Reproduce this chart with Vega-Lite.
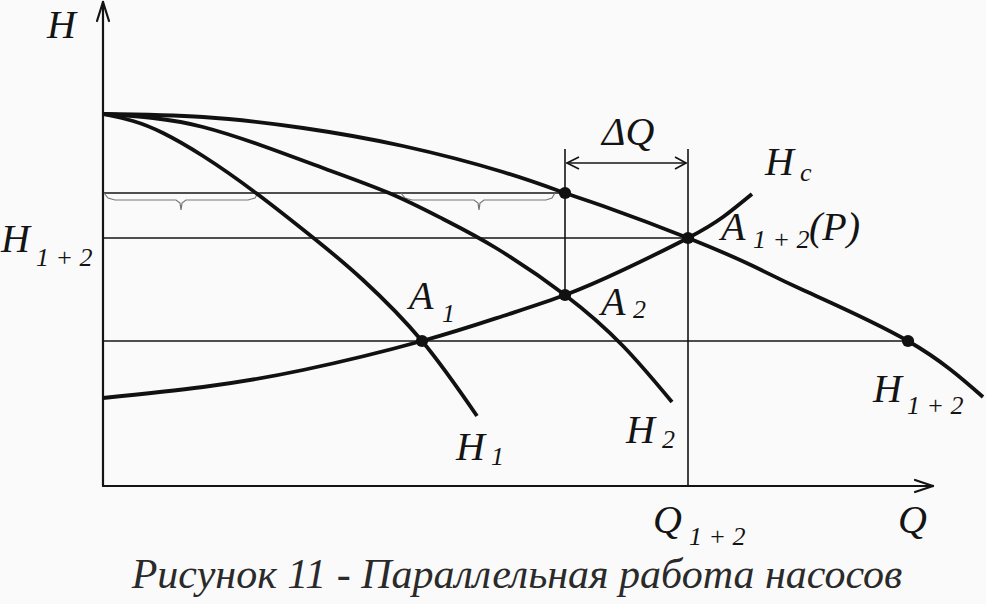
{
  "$schema": "https://vega.github.io/schema/vega-lite/v6.json",
  "width": 986,
  "height": 604,
  "padding": 0,
  "autosize": {"type": "none"},
  "background": "#fafafa",
  "config": {"view": {"stroke": null}},
  "datasets": {
    "curves": [
      {"curve": "H1+2", "kind": "pump", "idx": 0, "q": 0, "h": 37.2},
      {"curve": "H1+2", "kind": "pump", "idx": 1, "q": 10, "h": 36.9},
      {"curve": "H1+2", "kind": "pump", "idx": 2, "q": 20, "h": 35.8},
      {"curve": "H1+2", "kind": "pump", "idx": 3, "q": 30, "h": 34.0},
      {"curve": "H1+2", "kind": "pump", "idx": 4, "q": 40, "h": 31.4},
      {"curve": "H1+2", "kind": "pump", "idx": 5, "q": 46.2, "h": 29.3},
      {"curve": "H1+2", "kind": "pump", "idx": 6, "q": 50, "h": 28.0},
      {"curve": "H1+2", "kind": "pump", "idx": 7, "q": 58.5, "h": 24.8},
      {"curve": "H1+2", "kind": "pump", "idx": 8, "q": 65, "h": 22.0},
      {"curve": "H1+2", "kind": "pump", "idx": 9, "q": 70, "h": 19.6},
      {"curve": "H1+2", "kind": "pump", "idx": 10, "q": 80.5, "h": 14.5},
      {"curve": "H1+2", "kind": "pump", "idx": 11, "q": 88, "h": 8.9},
      {"curve": "H2", "kind": "pump", "idx": 0, "q": 0, "h": 37.2},
      {"curve": "H2", "kind": "pump", "idx": 1, "q": 5, "h": 36.8},
      {"curve": "H2", "kind": "pump", "idx": 2, "q": 10, "h": 35.9},
      {"curve": "H2", "kind": "pump", "idx": 3, "q": 16, "h": 34.0},
      {"curve": "H2", "kind": "pump", "idx": 4, "q": 22, "h": 31.8},
      {"curve": "H2", "kind": "pump", "idx": 5, "q": 28.6, "h": 29.3},
      {"curve": "H2", "kind": "pump", "idx": 6, "q": 34, "h": 26.7},
      {"curve": "H2", "kind": "pump", "idx": 7, "q": 39.3, "h": 23.8},
      {"curve": "H2", "kind": "pump", "idx": 8, "q": 46.2, "h": 19.1},
      {"curve": "H2", "kind": "pump", "idx": 9, "q": 52, "h": 14.0},
      {"curve": "H2", "kind": "pump", "idx": 10, "q": 56.9, "h": 8.4},
      {"curve": "H1", "kind": "pump", "idx": 0, "q": 0, "h": 37.2},
      {"curve": "H1", "kind": "pump", "idx": 1, "q": 3, "h": 36.5},
      {"curve": "H1", "kind": "pump", "idx": 2, "q": 6, "h": 35.3},
      {"curve": "H1", "kind": "pump", "idx": 3, "q": 10, "h": 33.0},
      {"curve": "H1", "kind": "pump", "idx": 4, "q": 15.3, "h": 29.3},
      {"curve": "H1", "kind": "pump", "idx": 5, "q": 21.3, "h": 24.6},
      {"curve": "H1", "kind": "pump", "idx": 6, "q": 26, "h": 20.6},
      {"curve": "H1", "kind": "pump", "idx": 7, "q": 31.9, "h": 14.5},
      {"curve": "H1", "kind": "pump", "idx": 8, "q": 37.4, "h": 7.0},
      {"curve": "Hc", "kind": "pump", "idx": 0, "q": 0, "h": 8.8},
      {"curve": "Hc", "kind": "pump", "idx": 1, "q": 10, "h": 9.9},
      {"curve": "Hc", "kind": "pump", "idx": 2, "q": 20, "h": 11.6},
      {"curve": "Hc", "kind": "pump", "idx": 3, "q": 31.9, "h": 14.5},
      {"curve": "Hc", "kind": "pump", "idx": 4, "q": 40, "h": 17.0},
      {"curve": "Hc", "kind": "pump", "idx": 5, "q": 46.2, "h": 19.1},
      {"curve": "Hc", "kind": "pump", "idx": 6, "q": 52, "h": 21.6},
      {"curve": "Hc", "kind": "pump", "idx": 7, "q": 58.5, "h": 24.8},
      {"curve": "Hc", "kind": "pump", "idx": 8, "q": 62, "h": 26.9},
      {"curve": "Hc", "kind": "pump", "idx": 9, "q": 64.9, "h": 29.2},
      {"curve": "brace1", "kind": "brace", "idx": 0, "q": 0.1, "h": 29.3},
      {"curve": "brace1", "kind": "brace", "idx": 1, "q": 0.5, "h": 28.8},
      {"curve": "brace1", "kind": "brace", "idx": 2, "q": 1.2, "h": 28.6},
      {"curve": "brace1", "kind": "brace", "idx": 3, "q": 7.3, "h": 28.6},
      {"curve": "brace1", "kind": "brace", "idx": 4, "q": 7.7, "h": 28.3},
      {"curve": "brace1", "kind": "brace", "idx": 5, "q": 7.8, "h": 27.6},
      {"curve": "brace1", "kind": "brace", "idx": 6, "q": 7.9, "h": 28.3},
      {"curve": "brace1", "kind": "brace", "idx": 7, "q": 8.3, "h": 28.6},
      {"curve": "brace1", "kind": "brace", "idx": 8, "q": 14.5, "h": 28.6},
      {"curve": "brace1", "kind": "brace", "idx": 9, "q": 15.2, "h": 28.8},
      {"curve": "brace1", "kind": "brace", "idx": 10, "q": 15.5, "h": 29.3},
      {"curve": "brace2", "kind": "brace", "idx": 0, "q": 29.8, "h": 29.3},
      {"curve": "brace2", "kind": "brace", "idx": 1, "q": 30.2, "h": 28.8},
      {"curve": "brace2", "kind": "brace", "idx": 2, "q": 30.9, "h": 28.6},
      {"curve": "brace2", "kind": "brace", "idx": 3, "q": 37.1, "h": 28.6},
      {"curve": "brace2", "kind": "brace", "idx": 4, "q": 37.5, "h": 28.3},
      {"curve": "brace2", "kind": "brace", "idx": 5, "q": 37.6, "h": 27.6},
      {"curve": "brace2", "kind": "brace", "idx": 6, "q": 37.7, "h": 28.3},
      {"curve": "brace2", "kind": "brace", "idx": 7, "q": 38.1, "h": 28.6},
      {"curve": "brace2", "kind": "brace", "idx": 8, "q": 44.3, "h": 28.6},
      {"curve": "brace2", "kind": "brace", "idx": 9, "q": 44.9, "h": 28.8},
      {"curve": "brace2", "kind": "brace", "idx": 10, "q": 45.2, "h": 29.3}
    ],
    "segs": [
      {"kind": "axis", "q": 0, "h": 0, "q2": 0, "h2": 48.4},
      {"kind": "axis", "q": 0, "h": 0, "q2": 83.0, "h2": 0},
      {"kind": "axis", "q": -0.6, "h": 46.5, "q2": 0, "h2": 48.4},
      {"kind": "axis", "q": 0.6, "h": 46.5, "q2": 0, "h2": 48.4},
      {"kind": "axis", "q": 81.2, "h": 0.6, "q2": 83.0, "h2": 0},
      {"kind": "axis", "q": 81.2, "h": -0.6, "q2": 83.0, "h2": 0},
      {"kind": "thin", "q": 0, "h": 29.3, "q2": 46.2, "h2": 29.3},
      {"kind": "thin", "q": 0, "h": 24.8, "q2": 58.5, "h2": 24.8},
      {"kind": "thin", "q": 0, "h": 14.5, "q2": 80.5, "h2": 14.5},
      {"kind": "thin", "q": 46.2, "h": 19.1, "q2": 46.2, "h2": 33.7},
      {"kind": "thin", "q": 58.5, "h": 0, "q2": 58.5, "h2": 33.7},
      {"kind": "thin", "q": 46.3, "h": 32.3, "q2": 58.4, "h2": 32.3},
      {"kind": "thin", "q": 47.6, "h": 32.9, "q2": 46.4, "h2": 32.3},
      {"kind": "thin", "q": 47.6, "h": 31.7, "q2": 46.4, "h2": 32.3},
      {"kind": "thin", "q": 57.2, "h": 32.9, "q2": 58.3, "h2": 32.3},
      {"kind": "thin", "q": 57.2, "h": 31.7, "q2": 58.3, "h2": 32.3}
    ],
    "dots": [
      {"point": "top", "q": 46.2, "h": 29.3},
      {"point": "A1+2", "q": 58.5, "h": 24.8},
      {"point": "A2", "q": 46.2, "h": 19.1},
      {"point": "A1", "q": 31.9, "h": 14.5},
      {"point": "H1+2", "q": 80.5, "h": 14.5}
    ],
    "labels": [
      {"role": "base", "text": "H", "q": -5.6, "h": 44.8},
      {"role": "base", "text": "H", "q": -10.2, "h": 23.4},
      {"role": "sub", "text": "1 + 2", "q": -6.7, "h": 22.0},
      {"role": "base", "text": "H", "q": 66.2, "h": 31.1},
      {"role": "sub", "text": "c", "q": 69.7, "h": 30.5},
      {"role": "base", "text": "A", "q": 61.8, "h": 24.6},
      {"role": "sub", "text": "1 + 2", "q": 65.0, "h": 23.8},
      {"role": "base", "text": "(P)", "q": 70.6, "h": 24.6},
      {"role": "base", "text": "A", "q": 30.6, "h": 17.7},
      {"role": "sub", "text": "1", "q": 33.9, "h": 16.4},
      {"role": "base", "text": "A", "q": 49.8, "h": 17.1},
      {"role": "sub", "text": "2", "q": 53.0, "h": 16.8},
      {"role": "base", "text": "H", "q": 35.3, "h": 2.6},
      {"role": "sub", "text": "1", "q": 38.8, "h": 2.1},
      {"role": "base", "text": "H", "q": 52.3, "h": 4.3},
      {"role": "sub", "text": "2", "q": 55.9, "h": 3.8},
      {"role": "base", "text": "H", "q": 77.0, "h": 8.4},
      {"role": "sub", "text": "1 + 2", "q": 80.4, "h": 7.2},
      {"role": "base", "text": "ΔQ", "q": 49.9, "h": 34.1},
      {"role": "base", "text": "Q", "q": 55.0, "h": -4.7},
      {"role": "sub", "text": "1 + 2", "q": 58.6, "h": -5.9},
      {"role": "base", "text": "Q", "q": 79.5, "h": -4.7},
      {"role": "caption", "text": "Рисунок 11 - Параллельная работа насосов", "q": 41.4, "h": -10.2}
    ]
  },
  "encoding": {
    "x": {"field": "q", "type": "quantitative", "scale": {"domain": [-10.3, 88.3], "nice": false, "zero": false}, "axis": null},
    "y": {"field": "h", "type": "quantitative", "scale": {"domain": [-11.8, 48.6], "nice": false, "zero": false}, "axis": null}
  },
  "layer": [
    {
      "data": {"name": "segs"},
      "transform": [{"filter": "datum.kind === 'thin'"}],
      "mark": {"type": "rule", "color": "#141414", "strokeWidth": 1.6},
      "encoding": {"x2": {"field": "q2"}, "y2": {"field": "h2"}}
    },
    {
      "data": {"name": "segs"},
      "transform": [{"filter": "datum.kind === 'axis'"}],
      "mark": {"type": "rule", "color": "#141414", "strokeWidth": 2.2, "strokeCap": "round"},
      "encoding": {"x2": {"field": "q2"}, "y2": {"field": "h2"}}
    },
    {
      "data": {"name": "curves"},
      "transform": [{"filter": "datum.kind === 'brace'"}],
      "mark": {"type": "line", "color": "#777777", "strokeWidth": 1.2},
      "encoding": {"detail": {"field": "curve"}, "order": {"field": "idx", "type": "quantitative"}}
    },
    {
      "data": {"name": "curves"},
      "transform": [{"filter": "datum.kind === 'pump'"}],
      "mark": {"type": "line", "color": "#111111", "strokeWidth": 3.8, "interpolate": "natural"},
      "encoding": {"detail": {"field": "curve"}, "order": {"field": "idx", "type": "quantitative"}}
    },
    {
      "data": {"name": "dots"},
      "mark": {"type": "point", "filled": true, "color": "#111111", "size": 150, "opacity": 1},
      "encoding": {}
    },
    {
      "data": {"name": "labels"},
      "transform": [{"filter": "datum.role === 'base'"}],
      "mark": {"type": "text", "font": "Liberation Serif, Times New Roman, serif", "fontStyle": "italic", "fontSize": 40, "align": "left", "baseline": "alphabetic", "color": "#141414"},
      "encoding": {"text": {"field": "text"}}
    },
    {
      "data": {"name": "labels"},
      "transform": [{"filter": "datum.role === 'sub'"}],
      "mark": {"type": "text", "font": "Liberation Serif, Times New Roman, serif", "fontStyle": "italic", "fontSize": 26, "align": "left", "baseline": "alphabetic", "color": "#141414"},
      "encoding": {"text": {"field": "text"}}
    },
    {
      "data": {"name": "labels"},
      "transform": [{"filter": "datum.role === 'caption'"}],
      "mark": {"type": "text", "font": "Liberation Serif, Times New Roman, serif", "fontStyle": "italic", "fontSize": 42, "align": "center", "baseline": "alphabetic", "color": "#2a2a2a"},
      "encoding": {"text": {"field": "text"}}
    }
  ]
}
